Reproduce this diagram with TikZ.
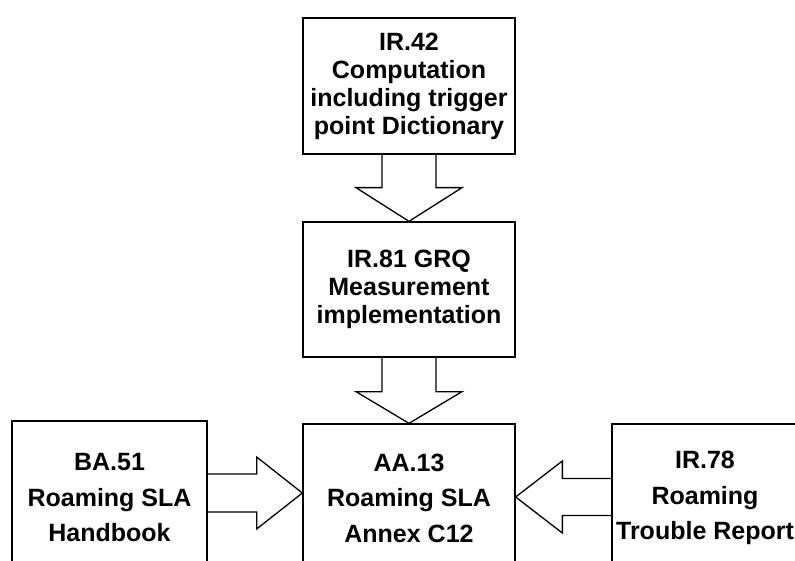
\documentclass[tikz,border=0pt]{standalone}
\usepackage{fontspec}
\setmainfont{Liberation Sans}
\usetikzlibrary{calc}
\begin{document}
\begin{tikzpicture}[x=1pt,y=-1pt,
  box/.style={draw, line width=1.3pt, rectangle, align=center, inner sep=0pt},
  toptext/.style={font=\fontsize{25}{28}\selectfont\bfseries},
  bottext/.style={font=\fontsize{25}{35.5}\selectfont\bfseries},
  blockarrow/.style={draw, line width=1.3pt, line join=miter}
]
\clip (0,0) rectangle (795,561);
\node[box, toptext, minimum width=212pt, minimum height=136pt] (t) at (409,86)
  {IR.42\\Computation\\including trigger\\point Dictionary};
\node[box, toptext, minimum width=212pt, minimum height=135pt] (m) at (409,289.5)
  {IR.81 GRQ\\Measurement\\implementation};
\node[box, bottext, minimum width=212pt, minimum height=148pt] (c) at (409,498)
  {AA.13\\Roaming SLA\\Annex C12};
\node[box, bottext, minimum width=195pt, minimum height=154pt] (l) at (109.5,498)
  {BA.51\\Roaming SLA\\Handbook};
\node[box, bottext, minimum width=186pt, minimum height=148pt] (r) at (705,498)
  {IR.78\\Roaming\\Trouble Report};
% down arrow t -> m
\draw[blockarrow] ($(t.south)+(-27,0)$) -- ($(t.south)+(-27,33)$) -- ($(t.south)+(-53,33)$)
  -- (m.north) -- ($(t.south)+(53,33)$) -- ($(t.south)+(27,33)$) -- ($(t.south)+(27,0)$);
% down arrow m -> c
\draw[blockarrow] ($(m.south)+(-27,0)$) -- ($(m.south)+(-27,34)$) -- ($(m.south)+(-53,34)$)
  -- (c.north) -- ($(m.south)+(53,34)$) -- ($(m.south)+(27,34)$) -- ($(m.south)+(27,0)$);
% right arrow l -> c
\coordinate (ltip) at ($(c.west)+(0,-5)$);
\coordinate (lb) at ($(l.east)+(0,-5)$);
\draw[blockarrow] ($(lb)+(0,-19)$) -- ($(lb)+(49,-19)$) -- ($(lb)+(49,-36)$)
  -- (ltip) -- ($(lb)+(49,36)$) -- ($(lb)+(49,19)$) -- ($(lb)+(0,19)$);
% left arrow r -> c
\coordinate (rtip) at ($(c.east)+(0,-1)$);
\coordinate (rb) at ($(r.west)+(0,-1)$);
\draw[blockarrow] ($(rb)+(0,-18.5)$) -- ($(rb)+(-49,-18.5)$) -- ($(rb)+(-49,-36)$)
  -- (rtip) -- ($(rb)+(-49,36)$) -- ($(rb)+(-49,18.5)$) -- ($(rb)+(0,18.5)$);
\end{tikzpicture}
\end{document}
